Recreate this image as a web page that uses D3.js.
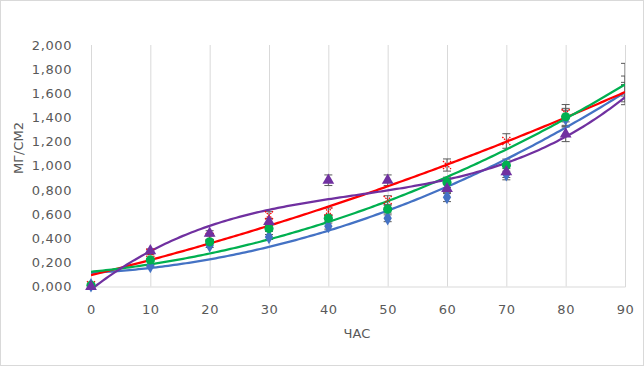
<!DOCTYPE html>
<html><head><meta charset="utf-8">
<script src="https://cdn.jsdelivr.net/npm/d3@7"></script>
<style>body{margin:0;background:#fff}</style></head>
<body><svg id="c" width="644" height="366"></svg>
<script>
const hours = [0, 10, 20, 30, 40, 50, 60, 70, 80, 90];
const blueVals   = [0.010, 0.170, 0.340, 0.410, 0.500, 0.565, 0.740, 0.930, 1.390, 1.660];
const redVals    = [0.010, 0.280, 0.410, 0.590, 0.620, 0.716, 1.006, 1.205, 1.435, 1.610];
const greenVals  = [0.010, 0.220, 0.370, 0.480, 0.565, 0.640, 0.862, 1.005, 1.405, 1.760];
const purpleVals = [0.000, 0.296, 0.440, 0.537, 0.880, 0.880, 0.810, 0.950, 1.263, 1.585];
const xTicks = [0, 10, 20, 30, 40, 50, 60, 70, 80, 90];
const yTicks = [0, 0.2, 0.4, 0.6, 0.8, 1.0, 1.2, 1.4, 1.6, 1.8, 2.0];
const xTitle = "ЧАС";
const yTitle = "МГ/СМ2";

const series = [
  {name: "blue", vals: blueVals, color: "#4472C4", marker: "diamond", order: 2},
  {name: "red", vals: redVals, color: "#FF0000", marker: "x", order: 2},
  {name: "green", vals: greenVals, color: "#00B050", marker: "circle", order: 2},
  {name: "purple", vals: purpleVals, color: "#7030A0", marker: "triangle", order: 3}
];

function polyfit(xs, ys, order) {
  const n = order + 1;
  const A = Array.from({length: n}, () => new Array(n + 1).fill(0));
  for (let i = 0; i < xs.length; i++) {
    for (let r = 0; r < n; r++) {
      for (let c = 0; c < n; c++) A[r][c] += Math.pow(xs[i], r + c);
      A[r][n] += ys[i] * Math.pow(xs[i], r);
    }
  }
  for (let p = 0; p < n; p++) {
    let m = p;
    for (let r = p + 1; r < n; r++) if (Math.abs(A[r][p]) > Math.abs(A[m][p])) m = r;
    [A[p], A[m]] = [A[m], A[p]];
    for (let r = 0; r < n; r++) {
      if (r === p) continue;
      const f = A[r][p] / A[p][p];
      for (let c = p; c <= n; c++) A[r][c] -= f * A[p][c];
    }
  }
  return A.map((row, i) => row[n] / row[i]);
}

const svg = d3.select("#c");
const fontFam = "'DejaVu Sans', sans-serif";
svg.append("rect").attr("x", 0.5).attr("y", 0.5).attr("width", 643).attr("height", 365)
  .attr("fill", "#fff").attr("stroke", "#D9D9D9");

const x = d3.scaleLinear().domain([0, 90]).range([91, 625]);
const y = d3.scaleLinear().domain([0, 2]).range([286.5, 45]);

const defs = svg.append("defs");
defs.append("clipPath").attr("id", "plot")
  .append("rect").attr("x", 91).attr("y", 40).attr("width", 534).attr("height", 250);
// markers sitting on the right plot edge are not shown in the reference
defs.append("clipPath").attr("id", "markclip")
  .append("rect").attr("x", 80).attr("y", 40).attr("width", x(90) - 80 - 6).attr("height", 260);

const xAxis = d3.axisBottom(x).tickValues(xTicks).tickSize(-(y(0) - y(2))).tickFormat(d => d).tickPadding(18);
const gx = svg.append("g").attr("transform", `translate(0,${y(0)})`).call(xAxis);
gx.select(".domain").attr("stroke", "#D9D9D9");
gx.selectAll(".tick line").attr("stroke", "#D9D9D9").attr("stroke-width", 1);
gx.selectAll(".tick text").attr("fill", "#595959").attr("font-size", 13).attr("font-family", fontFam).attr("letter-spacing", "0.6px");

const fmt = d => d3.format(".3f")(d).replace(".", ",");
const yAxis = d3.axisLeft(y).tickValues(yTicks).tickSize(0).tickPadding(19).tickFormat(fmt);
const gy = svg.append("g").attr("transform", `translate(91,0)`).call(yAxis);
gy.select(".domain").remove();
gy.selectAll(".tick text").attr("fill", "#595959").attr("font-size", 13).attr("font-family", fontFam).attr("letter-spacing", "0.6px");

svg.append("text").attr("x", 357).attr("y", 338).attr("text-anchor", "middle")
  .attr("fill", "#595959").attr("font-size", 13).attr("font-family", fontFam).text(xTitle);
svg.append("text").attr("transform", "translate(23,148) rotate(-90)").attr("text-anchor", "middle")
  .attr("fill", "#595959").attr("font-size", 13).attr("font-family", fontFam).text(yTitle);

const plot = svg.append("g").attr("clip-path", "url(#plot)");

// error bars (5%)
series.forEach(s => {
  const g = plot.append("g");
  s.vals.forEach((v, i) => {
    const cx = x(hours[i]), lo = y(v * 0.95), hi = y(v * 1.05);
    g.append("line").attr("x1", cx).attr("x2", cx).attr("y1", lo).attr("y2", hi).attr("stroke", "#595959");
    [lo, hi].forEach(yy => g.append("line").attr("x1", cx - 4).attr("x2", cx + 4).attr("y1", yy).attr("y2", yy).attr("stroke", "#595959"));
  });
});

// markers
const marks = svg.append("g").attr("clip-path", "url(#markclip)");
series.forEach(s => {
  const g = marks.append("g");
  s.vals.forEach((v, i) => {
    const cx = x(hours[i]), cy = y(v);
    if (s.marker === "x") {
      g.append("path").attr("d", `M${cx-4},${cy-4}L${cx+4},${cy+4}M${cx-4},${cy+4}L${cx+4},${cy-4}`)
        .attr("stroke", s.color).attr("stroke-width", 1.3).attr("stroke-dasharray", "1.5,1");
    } else if (s.marker === "circle") {
      g.append("circle").attr("cx", cx).attr("cy", cy).attr("r", 4.6).attr("fill", s.color);
    } else if (s.marker === "diamond") {
      g.append("path").attr("d", d3.symbol(d3.symbolDiamond, 60)()).attr("transform", `translate(${cx},${cy})`).attr("fill", s.color);
    } else {
      g.append("path").attr("d", d3.symbol(d3.symbolTriangle, 60)()).attr("transform", `translate(${cx},${cy})`).attr("fill", s.color);
    }
  });
});

// trendlines (least-squares polynomial fits of each series)
series.forEach(s => {
  const coef = polyfit(hours, s.vals, s.order);
  const f = t => coef.reduce((acc, c, k) => acc + c * Math.pow(t, k), 0);
  const pts = d3.range(0, 90.01, 0.5).map(t => [t, f(t)]);
  plot.append("path").attr("d", d3.line().x(d => x(d[0])).y(d => y(d[1]))(pts))
    .attr("fill", "none").attr("stroke", s.color).attr("stroke-width", 2.25);
});
</script>
</body></html>
